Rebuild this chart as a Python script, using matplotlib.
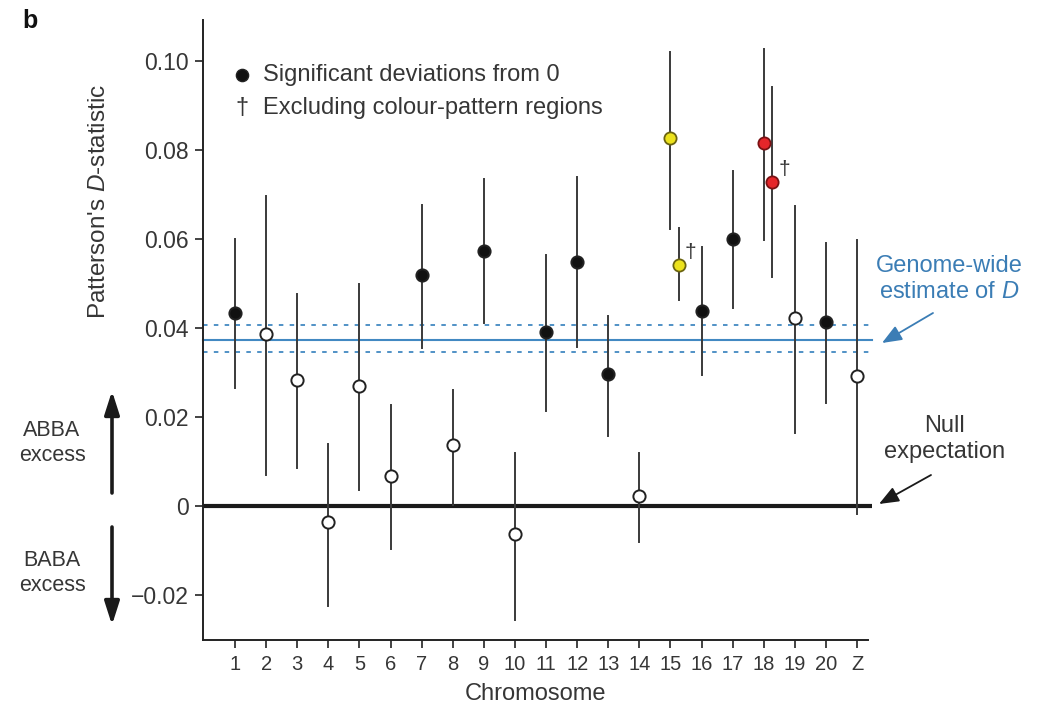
import matplotlib
matplotlib.use("Agg")
import matplotlib.pyplot as plt

plt.rcParams['font.family'] = ['Liberation Sans', 'DejaVu Sans']
plt.rcParams['mathtext.fontset'] = 'custom'
plt.rcParams['mathtext.it'] = 'Liberation Sans:italic'
plt.rcParams['mathtext.rm'] = 'Liberation Sans'

# ---- data ----
chrom_labels = ['1', '2', '3', '4', '5', '6', '7', '8', '9', '10', '11', '12',
                '13', '14', '15', '16', '17', '18', '19', '20', 'Z']
main_chrom = [1, 2, 3, 4, 5, 6, 7, 8, 9, 10, 11, 12, 13, 14, 16, 17, 19, 20, 21]
main_d = [0.0432, 0.0385, 0.0282, -0.0038, 0.0269, 0.0067, 0.0518, 0.0135, 0.0573,
          -0.0064, 0.0390, 0.0548, 0.0295, 0.0022, 0.0438, 0.0599, 0.0421, 0.0413, 0.0291]
main_lo = [0.0265, 0.0069, 0.0084, -0.0225, 0.0035, -0.0097, 0.0354, 0.0002, 0.0410,
           -0.0257, 0.0213, 0.0357, 0.0157, -0.0082, 0.0294, 0.0444, 0.0164, 0.0231, -0.0019]
main_hi = [0.0599, 0.0696, 0.0476, 0.0139, 0.0498, 0.0226, 0.0676, 0.0260, 0.0734,
           0.0119, 0.0562, 0.0739, 0.0425, 0.0118, 0.0581, 0.0751, 0.0674, 0.0590, 0.0596]
main_sig = [True, False, False, False, False, False, True, False, True,
            False, True, True, True, False, True, True, False, True, False]

# colour-pattern chromosomes (all sites / excluding colour-pattern regions)
cp_chrom = [15, 18]
cp_colors = ['#ece21c', '#e5262a']
cp_edges = ['#6b6410', '#7a1214']
cp_d_all = [0.0826, 0.0814]
cp_lo_all = [0.0621, 0.0596]
cp_hi_all = [0.1019, 0.1026]
cp_d_excl = [0.0541, 0.0727]
cp_lo_excl = [0.0462, 0.0513]
cp_hi_excl = [0.0623, 0.0940]

genome_d = 0.0372
genome_lo = 0.0345
genome_hi = 0.0406

ytick_vals = [-0.02, 0, 0.02, 0.04, 0.06, 0.08, 0.10]
ytick_labels = ['\u22120.02', '0', '0.02', '0.04', '0.06', '0.08', '0.10']

# ---- figure ----
W, H = 1037, 708
fig = plt.figure(figsize=(W / 100, H / 100), dpi=100)
ax = fig.add_axes([203 / W, 1 - 640 / H, (868 - 203) / W, (640 - 20) / H])

def fx(px):
    return px / W

def fy(py):
    return 1 - py / H

TXT = '#363636'
BAR = '#3a3a3a'
BLUE = '#4289c2'
BLUE_TXT = '#3b7db5'

ax.set_xlim(-0.03, 21.35)
ax.set_ylim(-0.0302, 0.1091)

# horizontal reference lines
xr = 21.48
ax.plot([-0.03, xr], [0, 0], color='#1a1a1a', lw=3.0, clip_on=False, zorder=1,
        solid_capstyle='butt')
ax.plot([-0.03, xr], [genome_d, genome_d], color=BLUE, lw=1.5, clip_on=False, zorder=1)
for v in (genome_lo, genome_hi):
    ax.plot([-0.03, xr], [v, v], color=BLUE, lw=1.3, ls=(0, (2.5, 3.5)),
            clip_on=False, zorder=1)

# main chromosomes
for x, d, lo, hi, s in zip(main_chrom, main_d, main_lo, main_hi, main_sig):
    ax.plot([x, x], [lo, hi], color=BAR, lw=1.4, zorder=2)
    ax.plot([x], [d], 'o', ms=8.8, mfc='#111111' if s else 'white',
            mec='#222222', mew=1.4, zorder=3)

# colour-pattern chromosomes
off = 0.26
for x, c, ec, d, lo, hi, d2, lo2, hi2 in zip(cp_chrom, cp_colors, cp_edges, cp_d_all,
                                             cp_lo_all, cp_hi_all, cp_d_excl,
                                             cp_lo_excl, cp_hi_excl):
    ax.plot([x, x], [lo, hi], color=BAR, lw=1.4, zorder=2)
    ax.plot([x], [d], 'o', ms=8.8, mfc=c, mec=ec, mew=1.3, zorder=3)
    ax.plot([x + off, x + off], [lo2, hi2], color=BAR, lw=1.4, zorder=2)
    ax.plot([x + off], [d2], 'o', ms=8.8, mfc=c, mec=ec, mew=1.3, zorder=3)
    ax.text(x + off + 0.2, d2 + 0.0027, '\u2020', fontsize=15, color=TXT,
            ha='left', va='center')

# axes styling
for side in ('top', 'right'):
    ax.spines[side].set_visible(False)
for side in ('left', 'bottom'):
    ax.spines[side].set_linewidth(1.4)
    ax.spines[side].set_color('#222222')

ax.set_xticks(range(1, 22))
ax.set_xticklabels(chrom_labels)
ax.set_yticks(ytick_vals)
ax.set_yticklabels(ytick_labels)
ax.tick_params(axis='y', direction='out', length=6, width=1.2, pad=4,
               labelsize=16.5, colors='#222222', labelcolor=TXT)
ax.tick_params(axis='x', direction='out', length=6, width=1.2, pad=5,
               labelsize=14.5, colors='#222222', labelcolor=TXT)
fig.text(fx(535), fy(694), 'Chromosome', fontsize=17, color=TXT,
         ha='center', va='center')

# y label
fig.text(fx(99), fy(201), "Patterson's $\\it{D}$-statistic", rotation=90,
         ha='center', va='center', fontsize=17.5, color=TXT)

# legend
ax.plot([1.22], [0.0968], 'o', ms=8.8, mfc='#111111', mec='#222222', clip_on=False)
ax.text(1.22, 0.0893, '\u2020', fontsize=17, ha='center', va='center', color=TXT)
ax.text(1.90, 0.0968, 'Significant deviations from 0', fontsize=17,
        ha='left', va='center', color=TXT)
ax.text(1.90, 0.0893, 'Excluding colour-pattern regions', fontsize=17,
        ha='left', va='center', color=TXT)

# ABBA / BABA
fig.text(fx(52), fy(443), 'ABBA\nexcess', ha='center', va='center', fontsize=15.5,
         color=TXT, linespacing=1.25)
fig.text(fx(52), fy(573), 'BABA\nexcess', ha='center', va='center', fontsize=15.5,
         color=TXT, linespacing=1.25)
big = dict(arrowstyle='-|>,head_length=1.0,head_width=0.32', lw=2.6, color='#1a1a1a',
           shrinkA=0, shrinkB=0)
fig.add_artist(matplotlib.patches.FancyArrowPatch((fx(112), fy(493)), (fx(112), fy(391)),
               transform=fig.transFigure, mutation_scale=14, **big))
fig.add_artist(matplotlib.patches.FancyArrowPatch((fx(112), fy(527)), (fx(112), fy(625)),
               transform=fig.transFigure, mutation_scale=14, **big))

# annotations
fig.text(fx(949), fy(279), 'Genome-wide\nestimate of $\\it{D}$', ha='center',
         va='center', fontsize=17, color=BLUE_TXT, linespacing=1.2)
fig.add_artist(matplotlib.patches.FancyArrowPatch(
    (fx(933), fy(313)), (fx(882), fy(343)), transform=fig.transFigure,
    arrowstyle='-|>,head_length=1.0,head_width=0.4', mutation_scale=12, lw=1.3,
    color=BLUE_TXT, shrinkA=0, shrinkB=0))
fig.text(fx(945), fy(439), 'Null\nexpectation', ha='center', va='center',
         fontsize=17, color=TXT, linespacing=1.2)
fig.add_artist(matplotlib.patches.FancyArrowPatch(
    (fx(931), fy(475)), (fx(879), fy(504)), transform=fig.transFigure,
    arrowstyle='-|>,head_length=1.0,head_width=0.4', mutation_scale=12, lw=1.3,
    color='#1a1a1a', shrinkA=0, shrinkB=0))

fig.text(fx(30), fy(21), 'b', fontsize=18, fontweight='bold', ha='center',
         va='center', color='#111111')

fig.savefig('out.png', dpi=100)
